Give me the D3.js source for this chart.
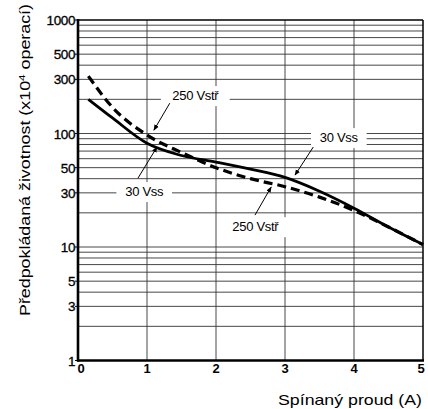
<!DOCTYPE html>
<html><head><meta charset="utf-8">
<script src="https://cdn.jsdelivr.net/npm/d3@7"></script>
<style>html,body{margin:0;padding:0;background:#fff;}svg{display:block;}</style>
</head><body><svg id="c" width="428" height="409"></svg>
<script>
// Data
const current = [0.15, 0.5, 1.0, 1.5, 2.0, 2.5, 3.0, 3.5, 4.0, 4.5, 5.0];
const life30Vdc = [200, 137, 82, 64, 56, 48.5, 41, 31, 22, 15, 10.5];
const life250Vac = [320, 170, 97, 68, 50, 40, 34, 27.5, 21, 15, 10.5];
const xTicks = [0, 1, 2, 3, 4, 5];
const yTickLabels = [1, 3, 5, 10, 30, 50, 100, 300, 500, 1000];
const yGrid = [2,3,4,5,6,7,8,9,10,20,30,40,50,60,70,80,90,100,200,300,400,500,600,700,800,900];
const xTitle = "Spínaný proud (A)";
const yTitleA = "Předpokládaná životnost (x10";
const yTitleSup = "4";
const yTitleB = " operací)";
const labels = [
  {text: "250 Vstř", x: 1.70, y: 197, px: 1.33, py: 185, ax: 1.10, ay: 107},
  {text: "30 Vss", x: 0.96, y: 28.1, px: 0.87, py: 40.5, ax: 1.145, ay: 76},
  {text: "30 Vss", x: 3.78, y: 84, px: 3.41, py: 76, ax: 3.145, ay: 43},
  {text: "250 Vstř", x: 2.57, y: 13.8, px: 2.565, py: 19.1, ax: 2.80, ay: 33.8},
];

const svg = d3.select("#c");
const font = "'Liberation Sans', Arial, sans-serif";
const x = d3.scaleLinear().domain([0, 5]).range([78, 423]);
const y = d3.scaleLog().domain([1, 1000]).range([360.5, 20]);

// Grid
const g = svg.append("g");
g.selectAll("line.h").data(yGrid).join("line")
  .attr("x1", x(0)).attr("x2", x(5))
  .attr("y1", d => y(d)).attr("y2", d => y(d))
  .attr("stroke", "#333").attr("stroke-width", 0.9);
g.selectAll("line.v").data([1,2,3,4]).join("line")
  .attr("y1", y(1)).attr("y2", y(1000))
  .attr("x1", d => x(d)).attr("x2", d => x(d))
  .attr("stroke", "#333").attr("stroke-width", 0.9);

// White boxes behind labels
const boxW = t => t.length * 6.6 + 16;
labels.forEach(l => {
  const w = boxW(l.text);
  svg.append("rect").attr("x", x(l.x) - w/2).attr("y", y(l.y) - 14)
    .attr("width", w).attr("height", 20).attr("fill", "#fff");
});

// Curves
const line = d3.line().x((d, i) => x(current[i])).y(d => y(d)).curve(d3.curveMonotoneX);
svg.append("path").attr("d", line(life250Vac)).attr("fill", "none")
  .attr("stroke", "#000").attr("stroke-width", 3.2).attr("stroke-dasharray", "9,5");
svg.append("path").attr("d", line(life30Vdc)).attr("fill", "none")
  .attr("stroke", "#000").attr("stroke-width", 2.8);

// Frame
svg.append("line").attr("x1", x(0)).attr("x2", x(5)).attr("y1", y(1000)).attr("y2", y(1000)).attr("stroke", "#000").attr("stroke-width", 1.5);
svg.append("line").attr("x1", x(5)).attr("x2", x(5)).attr("y1", y(1)).attr("y2", y(1000)).attr("stroke", "#000").attr("stroke-width", 1.5);
svg.append("line").attr("x1", x(0)).attr("x2", x(0)).attr("y1", y(1) + 1).attr("y2", y(1000) - 1).attr("stroke", "#000").attr("stroke-width", 2.6);
svg.append("line").attr("x1", x(0) - 1).attr("x2", x(5) + 1).attr("y1", y(1)).attr("y2", y(1)).attr("stroke", "#000").attr("stroke-width", 2.6);

// Axes labels
svg.selectAll("text.yt").data(yTickLabels).join("text")
  .attr("x", x(0) - 3).attr("y", d => y(d) + 5)
  .attr("text-anchor", "end").attr("font-family", font).attr("font-size", 13.5)
  .attr("letter-spacing", -0.4).attr("stroke", "#000").attr("stroke-width", 0.3).text(d => d);
svg.selectAll("line.ytk").data(yTickLabels).join("line")
  .attr("x1", x(0) - 3).attr("x2", x(0)).attr("y1", d => y(d)).attr("y2", d => y(d))
  .attr("stroke", "#000").attr("stroke-width", 1);
svg.selectAll("text.xt").data(xTicks).join("text")
  .attr("x", d => x(d) + (d === 0 ? 3 : (d === 5 ? -2 : 0))).attr("y", 373)
  .attr("text-anchor", "middle").attr("font-family", font).attr("font-size", 13)
  .attr("font-weight", "bold").text(d => d);
svg.append("text").attr("x", 422).attr("y", 405).attr("text-anchor", "end")
  .attr("font-family", font).attr("font-size", 14.5)
  .attr("textLength", 144).attr("lengthAdjust", "spacingAndGlyphs").text(xTitle);
const yt = svg.append("text").attr("transform", "translate(30,160) rotate(-90)")
  .attr("text-anchor", "middle").attr("font-family", font).attr("font-size", 14.5)
  .attr("textLength", 312).attr("lengthAdjust", "spacingAndGlyphs");
yt.append("tspan").text(yTitleA);
yt.append("tspan").attr("dy", -5).attr("font-size", 9.5).text(yTitleSup);
yt.append("tspan").attr("dy", 5).text(yTitleB);

// Annotations
svg.append("defs").append("marker").attr("id", "ah").attr("viewBox", "0 0 10 10")
  .attr("refX", 9).attr("refY", 5).attr("markerWidth", 6).attr("markerHeight", 6)
  .attr("orient", "auto").append("path").attr("d", "M0,1 L10,5 L0,9 Z").attr("fill", "#000");
labels.forEach(l => {
  svg.append("text").attr("x", x(l.x)).attr("y", y(l.y)).attr("text-anchor", "middle")
    .attr("font-family", font).attr("font-size", 13).attr("letter-spacing", -0.3).text(l.text);
  svg.append("line").attr("x1", x(l.px)).attr("y1", y(l.py)).attr("x2", x(l.ax)).attr("y2", y(l.ay))
    .attr("stroke", "#000").attr("stroke-width", 1).attr("marker-end", "url(#ah)");
});
</script></body></html>
